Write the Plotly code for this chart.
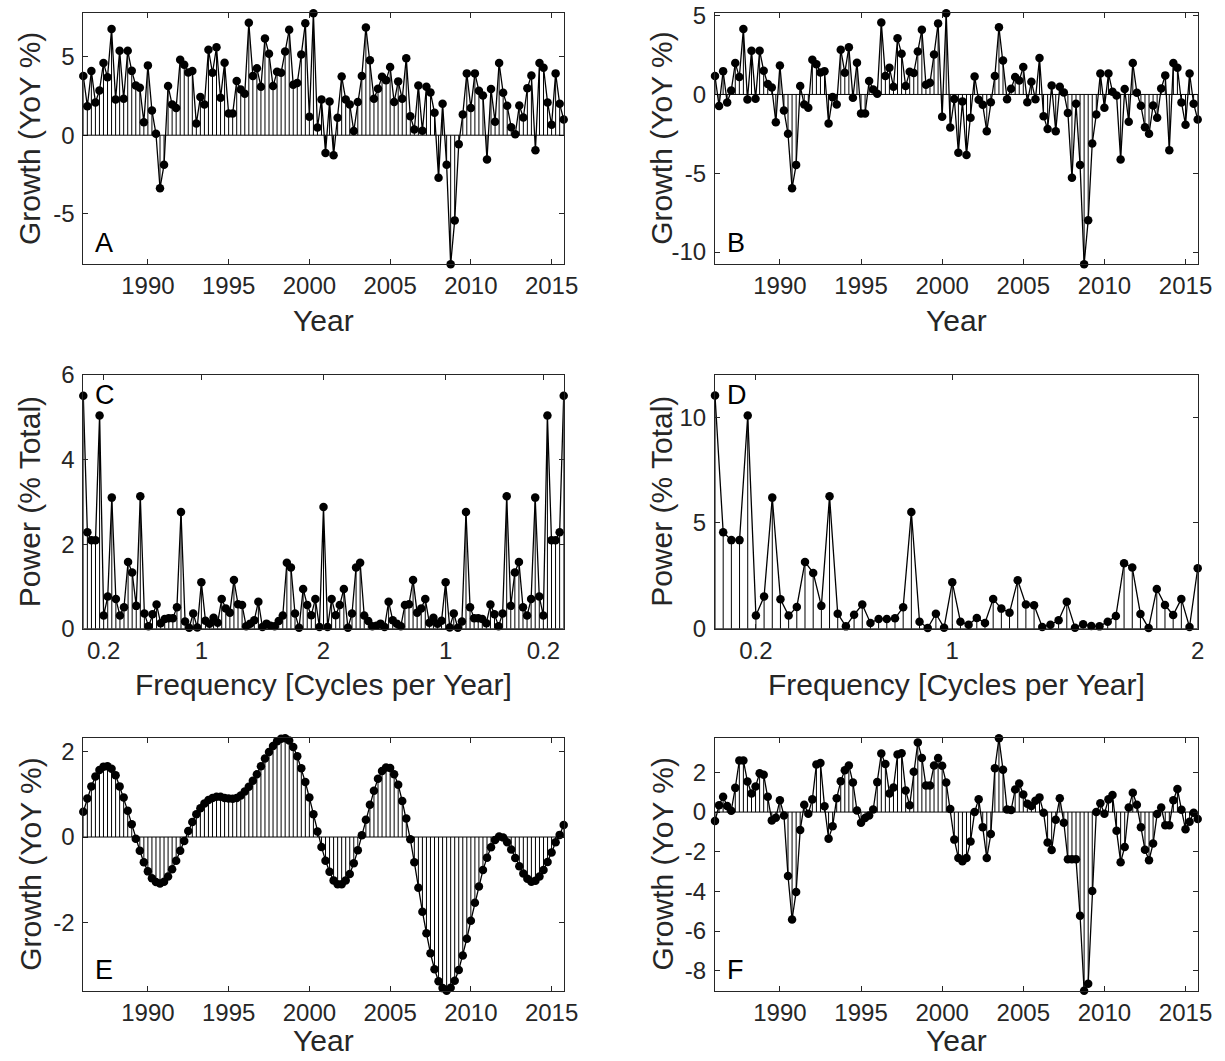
import numpy as np
import plotly.graph_objects as go

# ---------------- data ----------------
years = 1986 + 0.25 * np.arange(120)          # quarterly time axis
freq_full = np.arange(1, 120) / 30.0          # cycles per year (two-sided)
freq_half = np.arange(1, 61) / 30.0           # one-sided

growth_a = [3.77,1.85,4.09,2.09,2.85,4.6,3.7,6.77,2.28,5.38,
            2.32,5.38,4.1,3.17,3.02,0.83,4.45,1.57,0.09,-3.38,
            -1.89,3.13,1.96,1.74,4.81,4.49,4.0,4.09,0.74,2.43,
            1.96,5.45,3.98,5.6,2.38,4.62,1.38,1.38,3.45,2.91,
            2.64,7.17,3.77,4.26,3.09,6.17,5.19,3.13,4.04,3.98,
            5.34,6.72,3.21,3.32,5.15,7.13,1.17,7.77,0.49,2.28,
            -1.13,2.15,-1.28,1.11,3.74,2.28,1.96,0.26,2.11,3.77,
            6.87,4.77,2.32,2.96,3.72,3.51,4.34,2.11,3.43,2.32,
            4.91,1.21,0.36,3.17,0.28,3.09,2.72,1.43,-2.72,2.0,
            -1.89,-8.23,-5.43,-0.57,1.32,3.94,1.74,3.94,2.83,2.53,
            -1.55,2.94,0.85,4.6,2.7,1.87,0.51,0.06,1.89,1.13,
            3.0,3.81,-0.96,4.6,4.3,2.09,0.66,3.94,2.0,1.0]

growth_b = [1.17,-0.74,1.48,-0.51,0.25,1.99,1.1,4.15,-0.32,2.78,
            -0.28,2.78,1.5,0.66,0.44,-1.76,1.84,-1.02,-2.5,-5.95,
            -4.47,0.53,-0.64,-0.85,2.2,1.91,1.4,1.48,-1.84,-0.17,
            -0.64,2.84,1.38,2.99,-0.21,2.01,-1.21,-1.21,0.85,0.32,
            0.04,4.56,1.17,1.69,0.49,3.56,2.58,0.53,1.44,1.36,
            2.73,4.11,0.61,0.74,2.54,4.51,-1.42,5.15,-2.1,-0.29,
            -3.7,-0.44,-3.85,-1.48,1.14,-0.34,-0.66,-2.33,-0.49,1.17,
            4.26,2.16,-0.3,0.36,1.1,0.89,1.74,-0.49,0.81,-0.3,
            2.31,-1.38,-2.2,0.57,-2.33,0.49,0.13,-1.17,-5.28,-0.59,
            -4.47,-10.78,-7.99,-3.11,-1.27,1.33,-0.85,1.33,0.17,-0.06,
            -4.13,0.34,-1.74,1.99,0.11,-0.72,-2.08,-2.5,-0.7,-1.48,
            0.38,1.21,-3.54,1.99,1.69,-0.51,-1.93,1.33,-0.59,-1.59]

power_c = [5.51,2.28,2.09,2.09,5.04,0.31,0.76,3.1,0.70,0.31,
           0.51,1.58,1.33,0.54,3.13,0.36,0.06,0.34,0.57,0.13,
           0.23,0.25,0.25,0.51,2.76,0.17,0.02,0.36,0.03,1.1,
           0.19,0.12,0.26,0.14,0.7,0.48,0.38,1.15,0.58,0.56,
           0.06,0.12,0.2,0.64,0.04,0.12,0.07,0.06,0.18,0.31,
           1.56,1.45,0.36,0.02,0.94,0.56,0.32,0.7,0.04,2.88,
           0.04,0.7,0.32,0.56,0.94,0.02,0.36,1.45,1.56,0.31,
           0.18,0.06,0.07,0.12,0.04,0.64,0.2,0.12,0.06,0.56,
           0.58,1.15,0.38,0.48,0.7,0.14,0.26,0.12,0.19,1.1,
           0.03,0.36,0.02,0.17,2.76,0.51,0.25,0.25,0.23,0.13,
           0.57,0.34,0.06,0.36,3.13,0.54,1.33,1.58,0.51,0.31,
           0.70,3.1,0.76,0.31,5.04,2.09,2.09,2.28,5.51]

power_d = [11.03,4.56,4.19,4.19,10.08,0.62,1.52,6.2,1.39,0.62,
           1.03,3.16,2.64,1.08,6.27,0.71,0.11,0.66,1.14,0.27,
           0.46,0.46,0.49,1.01,5.52,0.33,0.03,0.71,0.05,2.2,
           0.33,0.19,0.51,0.27,1.41,0.95,0.76,2.29,1.14,1.11,
           0.08,0.19,0.4,1.28,0.05,0.21,0.13,0.11,0.33,0.6,
           3.1,2.9,0.7,0.03,1.88,1.12,0.65,1.41,0.08,2.86]

trend_e = [0.59,0.90,1.18,1.41,1.56,1.64,1.65,1.59,1.44,1.18,
           0.92,0.61,0.30,-0.04,-0.32,-0.59,-0.80,-0.96,-1.05,-1.08,
           -1.04,-0.92,-0.75,-0.55,-0.32,-0.09,0.14,0.35,0.53,0.67,
           0.78,0.86,0.91,0.94,0.94,0.91,0.90,0.89,0.91,0.97,
           1.06,1.17,1.31,1.46,1.65,1.83,1.98,2.12,2.23,2.29,
           2.30,2.25,2.10,1.88,1.60,1.28,0.92,0.53,0.13,-0.23,
           -0.55,-0.81,-1.01,-1.10,-1.10,-1.01,-0.86,-0.61,-0.31,0.04,
           0.40,0.75,1.08,1.36,1.54,1.62,1.61,1.46,1.22,0.84,
           0.43,-0.05,-0.59,-1.18,-1.74,-2.24,-2.71,-3.08,-3.36,-3.52,
           -3.58,-3.51,-3.35,-3.10,-2.76,-2.37,-1.95,-1.53,-1.15,-0.77,
           -0.48,-0.24,-0.07,0.01,-0.01,-0.12,-0.29,-0.49,-0.68,-0.85,
           -0.97,-1.04,-1.02,-0.92,-0.77,-0.58,-0.36,-0.12,0.05,0.28]

resid_f = [-0.45,0.34,0.77,0.30,0.07,1.22,2.6,2.6,1.54,0.94,
           1.29,1.96,1.88,0.77,-0.42,-0.29,0.60,-0.17,-3.22,-5.42,
           -4.03,-0.91,0.37,-0.08,0.64,2.4,2.48,0.29,-1.34,-0.72,
           0.70,1.56,2.11,2.35,1.49,0.08,-0.54,-0.30,-0.17,0.13,
           1.51,2.95,2.42,0.94,1.24,2.9,2.97,1.09,0.34,2.03,
           3.51,2.73,1.34,1.34,2.35,2.73,2.33,1.49,0.15,-1.39,
           -2.32,-2.48,-2.32,-1.48,0.0,0.65,-0.76,-2.32,-1.11,2.21,
           3.72,2.13,0.13,0.10,1.14,1.44,0.89,0.42,0.30,0.57,
           0.74,-0.03,-1.54,-1.91,-0.39,0.70,-0.54,-2.38,-2.38,-2.38,
           -5.23,-9.01,-8.66,-3.98,0.0,0.44,-0.08,0.64,0.86,-0.94,
           -2.53,-1.76,0.23,0.97,0.37,-0.76,-1.90,-2.43,-1.59,-0.1,
           0.23,-0.67,-0.67,0.60,1.16,0.12,-0.87,-0.49,-0.03,-0.35]

year_ticks = [1990, 1995, 2000, 2005, 2010, 2015]
freq_ticks_c = [0.2, 1, 2, 3, 3.8]
freq_ticklabels_c = ["0.2", "1", "2", "1", "0.2"]
freq_ticks_d = [0.2, 1, 2]
freq_ticklabels_d = ["0.2", "1", "2"]

# ---------------- layout geometry ----------------
W, H = 1225, 1061
FONT = "Liberation Sans, Arial, Helvetica, sans-serif"
AXC = "#262626"
TICK_FS = 24
TITLE_FS = 30
LETTER_FS = 27

cols_px = [(83.3, 563.7), (715.0, 1197.7)]
rows_px = [(13.3, 264.3), (375.0, 628.7), (738.3, 990.7)]
xtitle_gap = [56, 56, 50]

fig = go.Figure()
annotations = []
shapes = []


def ylab(v):
    return ("%g" % v).replace("\u2212", "-")


panels = [
    ("A", 0, 0, years, growth_a, [1986, 2015.75], [min(growth_a), max(growth_a)],
     year_ticks, [str(t) for t in year_ticks], [-5, 0, 5], "Year", "Growth (YoY %)", "bottom"),
    ("B", 0, 1, years, growth_b, [1986, 2015.75], [min(growth_b), max(growth_b)],
     year_ticks, [str(t) for t in year_ticks], [-10, -5, 0, 5], "Year", "Growth (YoY %)", "bottom"),
    ("C", 1, 0, freq_full, power_c, [freq_full[0], freq_full[-1]], [0, 6],
     freq_ticks_c, freq_ticklabels_c, [0, 2, 4, 6], "Frequency [Cycles per Year]", "Power (% Total)", "top"),
    ("D", 1, 1, freq_half, power_d, [freq_half[0], freq_half[-1]], [0, 12],
     freq_ticks_d, freq_ticklabels_d, [0, 5, 10], "Frequency [Cycles per Year]", "Power (% Total)", "top"),
    ("E", 2, 0, years, trend_e, [1986, 2015.75], [min(trend_e), max(trend_e)],
     year_ticks, [str(t) for t in year_ticks], [-2, 0, 2], "Year", "Growth (YoY %)", "bottom"),
    ("F", 2, 1, years, resid_f, [1986, 2015.75], [min(resid_f), max(resid_f)],
     year_ticks, [str(t) for t in year_ticks], [-8, -6, -4, -2, 0, 2], "Year", "Growth (YoY %)", "bottom"),
]

for n, (letter, r, c, x, y, xr, yr, xt, xtl, yt, xtitle, ytitle, lpos) in enumerate(panels, start=1):
    x0, x1 = cols_px[c]
    y0, y1 = rows_px[r]
    xa = "x" if n == 1 else "x%d" % n
    ya = "y" if n == 1 else "y%d" % n
    xkey = "xaxis" if n == 1 else "xaxis%d" % n
    ykey = "yaxis" if n == 1 else "yaxis%d" % n

    # stems
    sx, sy = [], []
    for xi, yi in zip(x, y):
        sx += [float(xi), float(xi), None]
        sy += [0, yi, None]
    fig.add_trace(go.Scatter(x=sx, y=sy, mode="lines", xaxis=xa, yaxis=ya,
                             line=dict(color="black", width=1), hoverinfo="skip",
                             showlegend=False))
    # connecting line + markers
    fig.add_trace(go.Scatter(x=list(x), y=y, mode="lines+markers", xaxis=xa, yaxis=ya,
                             line=dict(color="black", width=1.3),
                             marker=dict(color="black", size=8.5),
                             cliponaxis=False, showlegend=False))
    # baseline
    shapes.append(dict(type="line", xref=xa + " domain", yref=ya, x0=0, x1=1, y0=0, y1=0,
                       line=dict(color="black", width=1), layer="above"))

    common = dict(showline=True, linecolor=AXC, linewidth=1, mirror="ticks",
                  ticks="inside", ticklen=5, tickwidth=1, tickcolor=AXC,
                  showgrid=False, zeroline=False, automargin=False,
                  tickfont=dict(family=FONT, size=TICK_FS, color=AXC))
    fig.layout[xkey] = dict(common, domain=[x0 / W, x1 / W], range=xr, anchor=ya,
                            tickmode="array", tickvals=xt, ticktext=xtl,
                            ticklabelstandoff=0)
    fig.layout[ykey] = dict(common, domain=[1 - y1 / H, 1 - y0 / H], range=yr, anchor=xa,
                            tickmode="array", tickvals=yt, ticktext=[ylab(v) for v in yt],
                            ticklabelstandoff=3)

    # axis titles
    annotations.append(dict(text=xtitle, xref="paper", yref="paper",
                            x=(x0 + x1) / 2 / W, y=1 - (y1 + xtitle_gap[r]) / H,
                            xanchor="center", yanchor="middle", showarrow=False,
                            font=dict(family=FONT, size=TITLE_FS, color=AXC)))
    annotations.append(dict(text=ytitle, xref="paper", yref="paper",
                            x=(x0 - 53) / W, y=1 - (y0 + y1) / 2 / H, textangle=-90,
                            xanchor="center", yanchor="middle", showarrow=False,
                            font=dict(family=FONT, size=TITLE_FS, color=AXC)))
    # panel letter
    ly = (y1 - 21) if lpos == "bottom" else (y0 + 20)
    annotations.append(dict(text=letter, xref="paper", yref="paper",
                            x=(x0 + 10) / W, y=1 - ly / H,
                            xanchor="left", yanchor="middle", showarrow=False,
                            font=dict(family=FONT, size=LETTER_FS, color="black")))

fig.update_layout(width=W, height=H, margin=dict(l=0, r=0, t=0, b=0),
                  paper_bgcolor="white", plot_bgcolor="white",
                  annotations=annotations, shapes=shapes, showlegend=False)

fig.write_html("out.html")
